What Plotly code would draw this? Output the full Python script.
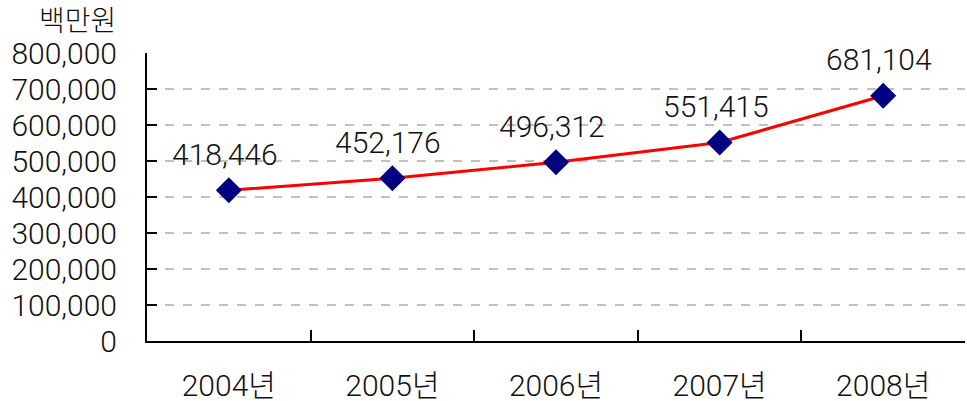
import plotly.graph_objects as go

years = ["2004년", "2005년", "2006년", "2007년", "2008년"]
values = [418446, 452176, 496312, 551415, 681104]
y_ticks = [0, 100000, 200000, 300000, 400000, 500000, 600000, 700000, 800000]

font_name = "Roboto, Noto Sans CJK KR"

fig = go.Figure()

fig.add_trace(go.Scatter(
    x=years, y=values,
    mode="lines+markers",
    line=dict(color="#ff0000", width=3),
    marker=dict(symbol="diamond", size=20, color="#000080"),
    showlegend=False
))

# value labels above each point
for yr, v in zip(years, values):
    fig.add_annotation(
        x=yr, y=v, text=f"{v:,}", showarrow=False,
        xshift=-4, yshift=36,
        font=dict(family=font_name, size=30, color="#111111", weight=300)
    )

fig.add_annotation(
    x=-0.035, y=1.045, xref="paper", yref="paper", xanchor="right", yanchor="bottom",
    text="백만원", showarrow=False,
    font=dict(family=font_name, size=28, color="#111111", weight=300)
)

fig.update_layout(
    width=967, height=401,
    margin=dict(l=147, r=2, t=53, b=60, autoexpand=False),
    paper_bgcolor="white", plot_bgcolor="white",
    font=dict(family=font_name, size=30, color="#111111", weight=300),
)

fig.update_xaxes(
    type="category", range=[-0.5, 4.5], automargin=False,
    showline=True, linecolor="black", linewidth=2,
    ticks="inside", ticklen=11, tickwidth=2, tickcolor="black",
    tickson="boundaries", showgrid=False,
    ticklabelstandoff=17,
)

fig.update_yaxes(
    range=[0, 800000], tickvals=y_ticks, automargin=False,
    tickformat=",d",
    showline=True, linecolor="black", linewidth=2,
    ticks="inside", ticklen=10, tickwidth=2, tickcolor="black",
    showgrid=True, gridcolor="#c0c0c0", griddash="dash", gridwidth=2,
    zeroline=False, ticklabelstandoff=22,
)

fig.write_html(
    "out.html",
    config={"displayModeBar": False},
    post_script="document.body.style.margin='0';",
)
